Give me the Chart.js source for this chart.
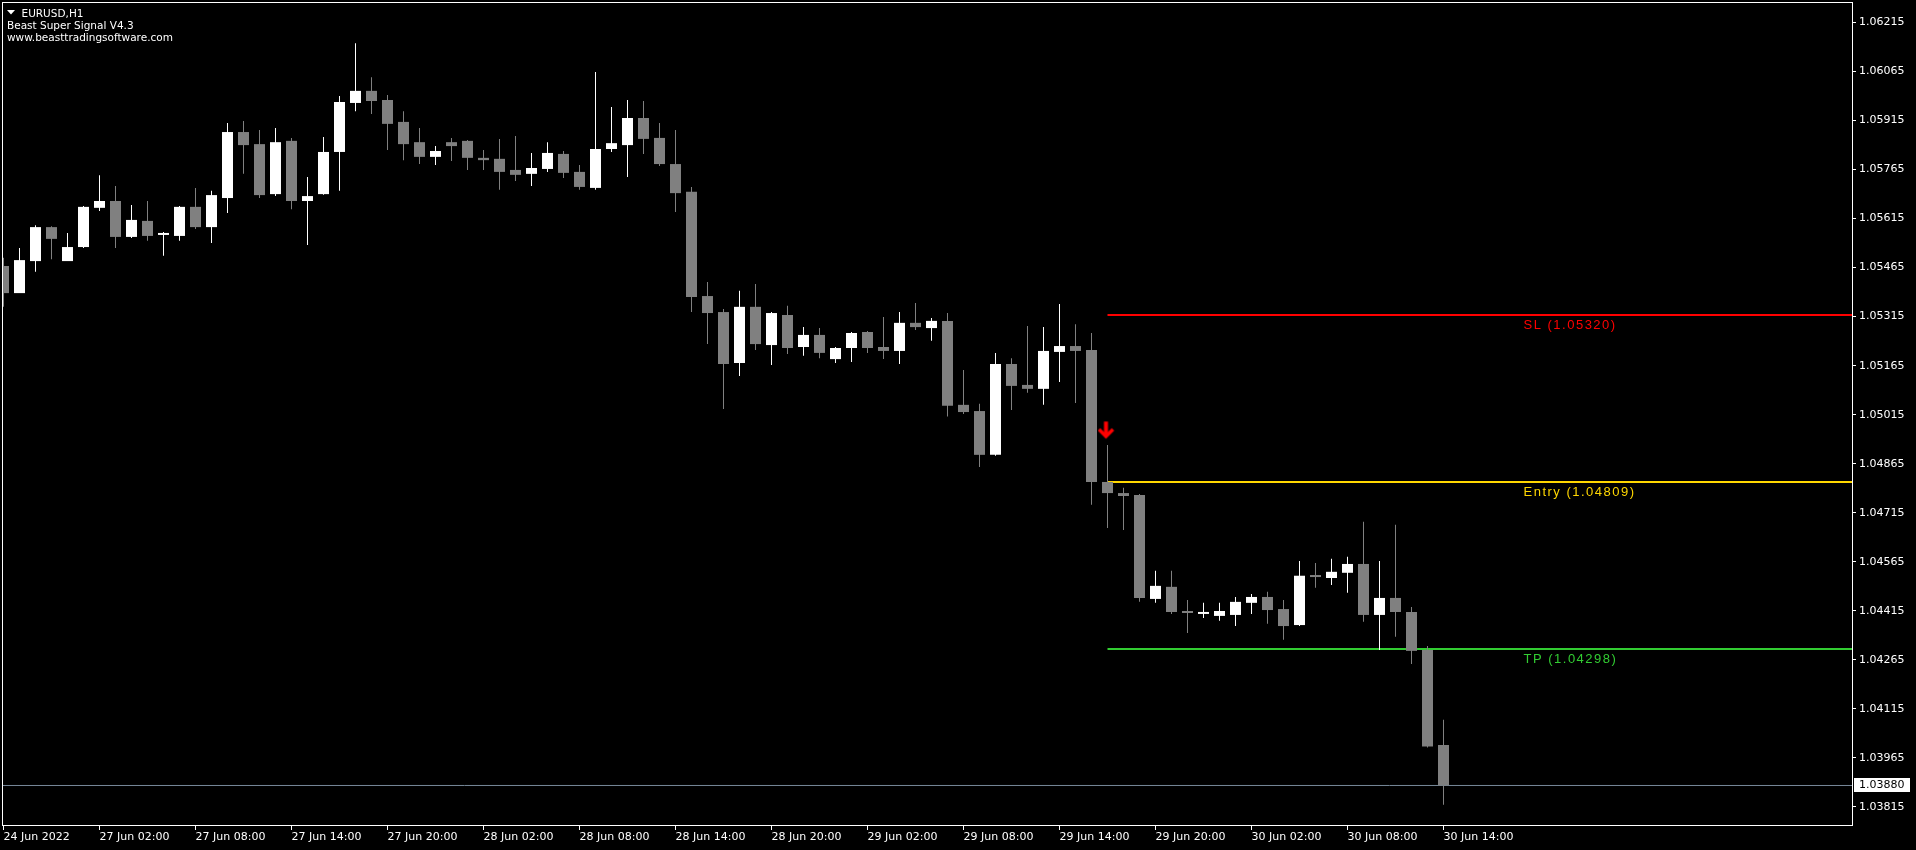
<!DOCTYPE html>
<html>
<head>
<meta charset="utf-8">
<title>EURUSD,H1</title>
<script src="https://cdn.jsdelivr.net/npm/chart.js@4.4.1/dist/chart.umd.min.js"></script>
<style>
  html, body { margin: 0; padding: 0; background: #000; }
  #wrap { width: 1916px; height: 850px; position: relative; }
</style>
</head>
<body>
<div id="wrap"><canvas id="my"></canvas></div>
<script>
// EURUSD H1, one bar per hour from 24 Jun 20:00 to 30 Jun 14:00
const opens = [
  1.05470, 1.05387, 1.05485, 1.05589, 1.05485, 1.05528, 1.05648, 1.05669, 1.05559, 1.05608,
  1.05565, 1.05562, 1.05651, 1.05589, 1.05678, 1.05880, 1.05843, 1.05690, 1.05853, 1.05669,
  1.05690, 1.05819, 1.05969, 1.06006, 1.05978, 1.05911, 1.05849, 1.05804, 1.05849, 1.05853,
  1.05801, 1.05798, 1.05764, 1.05752, 1.05767, 1.05813, 1.05758, 1.05709, 1.05828, 1.05840,
  1.05923, 1.05862, 1.05782, 1.05697, 1.05378, 1.05329, 1.05173, 1.05345, 1.05228, 1.05320,
  1.05222, 1.05259, 1.05185, 1.05219, 1.05268, 1.05222, 1.05210, 1.05296, 1.05280, 1.05302,
  1.05045, 1.05026, 1.04892, 1.05170, 1.05106, 1.05094, 1.05207, 1.05225, 1.05213, 1.04809,
  1.04775, 1.04769, 1.04451, 1.04488, 1.04411, 1.04405, 1.04399, 1.04402, 1.04439, 1.04457,
  1.04420, 1.04371, 1.04522, 1.04515, 1.04531, 1.04558, 1.04402, 1.04454, 1.04411, 1.04295,
  1.04004
];
const highs = [
  1.05495, 1.05525, 1.05595, 1.05592, 1.05571, 1.05654, 1.05748, 1.05715, 1.05657, 1.05669,
  1.05574, 1.05654, 1.05709, 1.05700, 1.05908, 1.05914, 1.05886, 1.05892, 1.05862, 1.05742,
  1.05865, 1.05990, 1.06152, 1.06048, 1.05993, 1.05944, 1.05892, 1.05837, 1.05862, 1.05856,
  1.05825, 1.05859, 1.05868, 1.05816, 1.05849, 1.05822, 1.05779, 1.06064, 1.05957, 1.05978,
  1.05975, 1.05908, 1.05886, 1.05712, 1.05421, 1.05338, 1.05394, 1.05415, 1.05329, 1.05348,
  1.05283, 1.05280, 1.05222, 1.05268, 1.05271, 1.05314, 1.05329, 1.05357, 1.05311, 1.05326,
  1.05152, 1.05048, 1.05204, 1.05188, 1.05286, 1.05283, 1.05354, 1.05292, 1.05265, 1.04922,
  1.04791, 1.04772, 1.04537, 1.04537, 1.04448, 1.04439, 1.04439, 1.04457, 1.04466, 1.04473,
  1.04448, 1.04567, 1.04561, 1.04574, 1.04580, 1.04687, 1.04567, 1.04678, 1.04426, 1.04307,
  1.04081
];
const lows = [
  1.05345, 1.05387, 1.05452, 1.05491, 1.05485, 1.05525, 1.05638, 1.05525, 1.05556, 1.05547,
  1.05501, 1.05547, 1.05583, 1.05540, 1.05632, 1.05752, 1.05678, 1.05684, 1.05644, 1.05534,
  1.05688, 1.05700, 1.05944, 1.05935, 1.05825, 1.05794, 1.05782, 1.05779, 1.05791, 1.05764,
  1.05764, 1.05703, 1.05730, 1.05715, 1.05758, 1.05739, 1.05703, 1.05703, 1.05819, 1.05742,
  1.05813, 1.05776, 1.05635, 1.05329, 1.05231, 1.05032, 1.05133, 1.05213, 1.05167, 1.05201,
  1.05195, 1.05188, 1.05173, 1.05176, 1.05204, 1.05185, 1.05170, 1.05274, 1.05241, 1.05009,
  1.05017, 1.04855, 1.04889, 1.05029, 1.05082, 1.05045, 1.05115, 1.05051, 1.04739, 1.04668,
  1.04662, 1.04442, 1.04439, 1.04405, 1.04347, 1.04393, 1.04384, 1.04368, 1.04405, 1.04375,
  1.04326, 1.04368, 1.04485, 1.04494, 1.04470, 1.04381, 1.04295, 1.04335, 1.04252, 1.03996,
  1.03821
];
const closes = [
  1.05387, 1.05488, 1.05589, 1.05553, 1.05528, 1.05651, 1.05669, 1.05559, 1.05611, 1.05562,
  1.05566, 1.05651, 1.05589, 1.05687, 1.05880, 1.05840, 1.05687, 1.05849, 1.05669, 1.05684,
  1.05819, 1.05972, 1.06006, 1.05975, 1.05905, 1.05843, 1.05804, 1.05822, 1.05837, 1.05801,
  1.05794, 1.05758, 1.05749, 1.05770, 1.05816, 1.05755, 1.05712, 1.05828, 1.05846, 1.05923,
  1.05859, 1.05782, 1.05693, 1.05375, 1.05326, 1.05170, 1.05345, 1.05231, 1.05326, 1.05219,
  1.05259, 1.05204, 1.05219, 1.05265, 1.05219, 1.05210, 1.05296, 1.05283, 1.05302, 1.05042,
  1.05023, 1.04892, 1.05170, 1.05103, 1.05094, 1.05210, 1.05225, 1.05210, 1.04809, 1.04775,
  1.04766, 1.04454, 1.04491, 1.04411, 1.04408, 1.04411, 1.04414, 1.04442, 1.04457, 1.04417,
  1.04368, 1.04522, 1.04518, 1.04534, 1.04558, 1.04402, 1.04454, 1.04411, 1.04292, 1.03999,
  1.03880
];

// time axis labels, every 6 bars
const xTickIdx = [0, 6, 12, 18, 24, 30, 36, 42, 48, 54, 60, 66, 72, 78, 84, 90];
const xTickLabels = [
  '24 Jun 2022', '27 Jun 02:00', '27 Jun 08:00', '27 Jun 14:00', '27 Jun 20:00',
  '28 Jun 02:00', '28 Jun 08:00', '28 Jun 14:00', '28 Jun 20:00', '29 Jun 02:00',
  '29 Jun 08:00', '29 Jun 14:00', '29 Jun 20:00', '30 Jun 02:00', '30 Jun 08:00',
  '30 Jun 14:00'
];
const yTicks = [
  1.06215, 1.06065, 1.05915, 1.05765, 1.05615, 1.05465, 1.05315, 1.05165, 1.05015,
  1.04865, 1.04715, 1.04565, 1.04415, 1.04265, 1.04115, 1.03965, 1.03815
];

// signal levels
const levelNames = ['SL', 'Entry', 'TP'];
const levelPrices = [1.05320, 1.04809, 1.04298];
const levelColors = ['#ff0000', '#ffd700', '#32cd32'];
const signalIdx = 69;
const signalArrowPrice = 1.04967;
const levelLabelIdx = 95;
const bidPrice = 1.03880;

const xMin = -0.09375, xMax = 115.53125;
const yMin = 1.03756, yMax = 1.06278;

const barColors = closes.map((c, i) => c >= opens[i] ? '#ffffff' : '#808080');

function makeArrow() {
  const c = document.createElement('canvas');
  c.width = 20; c.height = 20;
  const g = c.getContext('2d');
  g.fillStyle = '#ff0000';
  g.fillRect(6.5, 1.2, 4, 13);
  g.strokeStyle = '#ff0000';
  g.lineWidth = 3.5;
  g.lineJoin = 'miter';
  g.beginPath();
  g.moveTo(1.5, 9);
  g.lineTo(8.5, 16);
  g.lineTo(15.5, 9);
  g.stroke();
  return c;
}

Chart.defaults.font.family = 'DejaVu Sans';
Chart.defaults.font.size = 11;
Chart.defaults.color = '#ffffff';

const datasets = [
  {
    type: 'bar', label: 'body', order: 1,
    data: opens.map((o, i) => ({ x: i, y: [o, closes[i]] })),
    backgroundColor: barColors,
    barThickness: 11, minBarLength: 2, grouped: false, inflateAmount: 0, borderWidth: 0
  },
  {
    type: 'bar', label: 'wick', order: 2,
    data: lows.map((l, i) => ({ x: i, y: [l, highs[i]] })),
    backgroundColor: barColors,
    barThickness: 1, grouped: false, inflateAmount: 0, borderWidth: 0
  },
  {
    type: 'line', label: 'bid', order: 4,
    data: [{ x: xMin, y: bidPrice }, { x: xMax, y: bidPrice }],
    borderColor: '#778899', borderWidth: 1, pointRadius: 0, fill: false
  },
  {
    type: 'scatter', label: 'signal', order: 0,
    data: [{ x: signalIdx, y: signalArrowPrice }],
    pointStyle: makeArrow(), pointRadius: 10, showLine: false
  }
];
levelPrices.forEach((p, i) => {
  datasets.push({
    type: 'line', label: levelNames[i], order: 3,
    data: [{ x: signalIdx, y: p }, { x: xMax, y: p }],
    borderColor: levelColors[i], borderWidth: 2, pointRadius: 0, fill: false
  });
});

const overlay = {
  id: 'overlay',
  afterDraw(chart) {
    const { ctx, chartArea: a, scales: { x, y } } = chart;
    ctx.save();
    // frame
    ctx.strokeStyle = '#ffffff';
    ctx.lineWidth = 1;
    ctx.strokeRect(a.left + 0.5, a.top + 0.5, a.right - a.left, a.bottom - a.top - 1);

    // header
    ctx.fillStyle = '#ffffff';
    ctx.beginPath();
    ctx.moveTo(7, 10); ctx.lineTo(15, 10); ctx.lineTo(11, 14.5); ctx.closePath();
    ctx.fill();
    ctx.font = '10.5px "DejaVu Sans"';
    ctx.textBaseline = 'alphabetic';
    ctx.textAlign = 'left';
    ctx.fillText('EURUSD,H1', 21.5, 16.5);
    ctx.fillText('Beast Super Signal V4.3', 7, 28.5);
    ctx.fillText('www.beasttradingsoftware.com', 7, 40.5);

    // level captions
    ctx.font = '13px "Liberation Sans"';
    ctx.letterSpacing = '1.5px';
    levelPrices.forEach((p, i) => {
      ctx.fillStyle = levelColors[i];
      ctx.fillText(levelNames[i] + ' (' + p.toFixed(5) + ')', x.getPixelForValue(levelLabelIdx), y.getPixelForValue(p) + 14);
    });
    ctx.letterSpacing = '0px';

    // bid price box on the axis
    const by = y.getPixelForValue(bidPrice);
    ctx.fillStyle = '#ffffff';
    ctx.fillRect(a.right + 2, Math.round(by) - 7, 56, 14);
    ctx.fillStyle = '#000000';
    ctx.font = '11px "DejaVu Sans"';
    ctx.textBaseline = 'middle';
    ctx.fillText(bidPrice.toFixed(5), a.right + 7, by);
    ctx.restore();
  }
};

new Chart(document.getElementById('my'), {
  type: 'bar',
  data: { datasets },
  options: {
    responsive: true,
    maintainAspectRatio: false,
    devicePixelRatio: 1,
    animation: false,
    layout: { autoPadding: false, padding: { left: 2, top: 2, right: 0, bottom: 0 } },
    plugins: { legend: { display: false }, tooltip: { enabled: false } },
    scales: {
      x: {
        type: 'linear', min: xMin, max: xMax, offset: false,
        grid: { offset: false, drawOnChartArea: false, drawTicks: true, tickLength: 4, color: '#ffffff' },
        border: { display: false },
        afterBuildTicks: s => { s.ticks = xTickIdx.map(v => ({ value: v })); },
        afterFit: s => { s.height = 24; s.paddingLeft = 0; s.paddingRight = 0; },
        ticks: {
          autoSkip: false, maxRotation: 0, minRotation: 0, align: 'start', padding: 1,
          color: '#ffffff',
          callback: (v, i) => xTickLabels[i]
        }
      },
      y: {
        type: 'linear', position: 'right', min: yMin, max: yMax, beginAtZero: false,
        grid: { drawOnChartArea: false, drawTicks: true, tickLength: 4, color: '#ffffff' },
        border: { display: false },
        afterBuildTicks: s => { s.ticks = yTicks.map(v => ({ value: v })); },
        afterFit: s => { s.width = 64; s.paddingTop = 0; s.paddingBottom = 0; },
        ticks: {
          autoSkip: false, padding: 3, color: '#ffffff',
          callback: v => v.toFixed(5)
        }
      }
    }
  },
  plugins: [overlay]
});
</script>
</body>
</html>
